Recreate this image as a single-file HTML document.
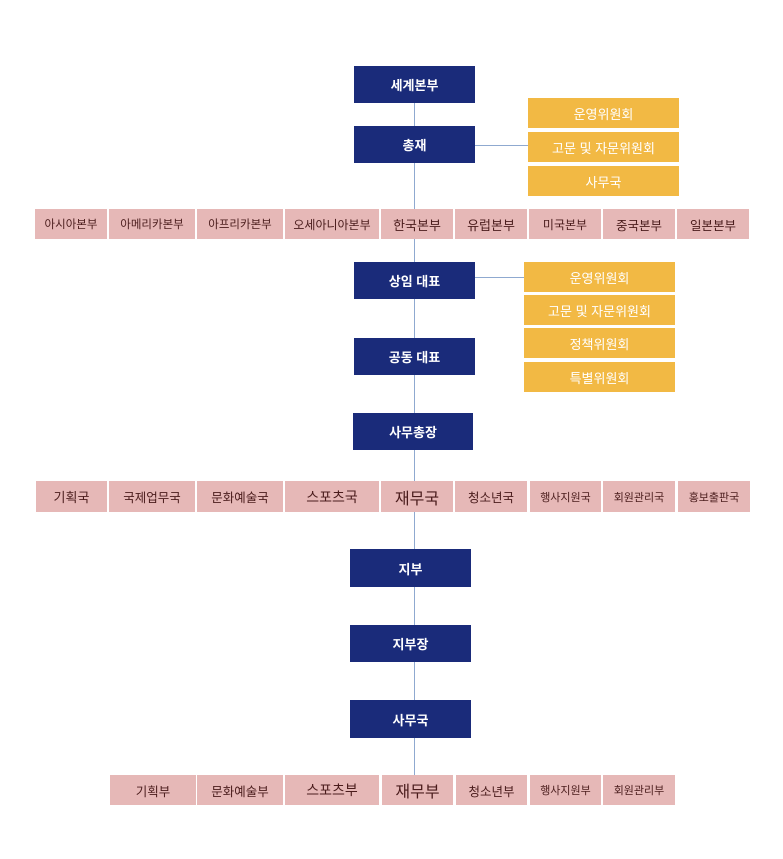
<!DOCTYPE html>
<html><head><meta charset="utf-8"><style>
body{margin:0;width:783px;height:859px;background:#fff;position:relative;overflow:hidden;font-family:"Liberation Sans","Noto Sans CJK KR",sans-serif}
div{position:absolute;box-sizing:border-box;display:flex;align-items:center;justify-content:center;white-space:nowrap}
.n{background:#1a2b7a;color:#fff;font-size:13px;font-weight:bold}
.o{background:#f2b944;color:#fff;font-size:13px}
.p{background:#e6b8b7;color:#4a1c1c;font-size:11.5px}
.l{background:#8fa9d0}
</style></head><body>
<div class="l" style="left:414px;top:100px;width:1px;height:676px"></div>
<div class="l" style="left:475px;top:145px;width:53px;height:1px"></div>
<div class="l" style="left:475px;top:277px;width:49px;height:1px"></div>

<div class="n" style="left:354px;top:66px;width:121px;height:37px">세계본부</div>
<div class="n" style="left:354px;top:126px;width:121px;height:37px">총재</div>
<div class="n" style="left:354px;top:262px;width:121px;height:37px">상임 대표</div>
<div class="n" style="left:354px;top:338px;width:121px;height:37px">공동 대표</div>
<div class="n" style="left:353px;top:413px;width:120px;height:37px">사무총장</div>
<div class="n" style="left:350px;top:549px;width:121px;height:38px">지부</div>
<div class="n" style="left:350px;top:625px;width:121px;height:37px">지부장</div>
<div class="n" style="left:350px;top:700px;width:121px;height:38px">사무국</div>

<div class="o" style="left:528px;top:98px;width:151px;height:30px">운영위원회</div>
<div class="o" style="left:528px;top:132px;width:151px;height:30px">고문 및 자문위원회</div>
<div class="o" style="left:528px;top:166px;width:151px;height:30px">사무국</div>
<div class="o" style="left:524px;top:262px;width:151px;height:30px">운영위원회</div>
<div class="o" style="left:524px;top:295px;width:151px;height:30px">고문 및 자문위원회</div>
<div class="o" style="left:524px;top:328px;width:151px;height:30px">정책위원회</div>
<div class="o" style="left:524px;top:362px;width:151px;height:30px">특별위원회</div>

<div class="p" style="left:35px;top:209px;width:72px;height:30px">아시아본부</div>
<div class="p" style="left:109px;top:209px;width:86px;height:30px">아메리카본부</div>
<div class="p" style="left:197px;top:209px;width:86px;height:30px">아프리카본부</div>
<div class="p" style="left:285px;top:209px;width:94px;height:30px;font-size:12px">오세아니아본부</div>
<div class="p" style="left:381px;top:209px;width:72px;height:30px;font-size:13px">한국본부</div>
<div class="p" style="left:455px;top:209px;width:72px;height:30px;font-size:13px">유럽본부</div>
<div class="p" style="left:529px;top:209px;width:72px;height:30px;font-size:12px">미국본부</div>
<div class="p" style="left:603px;top:209px;width:72px;height:30px;font-size:12.5px">중국본부</div>
<div class="p" style="left:677px;top:209px;width:72px;height:30px;font-size:12.5px">일본본부</div>

<div class="p" style="left:36px;top:481px;width:71px;height:31px;font-size:13px">기획국</div>
<div class="p" style="left:109px;top:481px;width:86px;height:31px;font-size:12.5px">국제업무국</div>
<div class="p" style="left:197px;top:481px;width:86px;height:31px;font-size:12.5px">문화예술국</div>
<div class="p" style="left:285px;top:481px;width:94px;height:31px;font-size:14px">스포츠국</div>
<div class="p" style="left:381px;top:481px;width:72px;height:31px;font-size:16px">재무국</div>
<div class="p" style="left:455px;top:481px;width:72px;height:31px;font-size:12.5px">청소년국</div>
<div class="p" style="left:530px;top:481px;width:71px;height:31px;font-size:11px">행사지원국</div>
<div class="p" style="left:603px;top:481px;width:72px;height:31px;font-size:11px">회원관리국</div>
<div class="p" style="left:678px;top:481px;width:72px;height:31px;font-size:11px">홍보출판국</div>

<div class="p" style="left:110px;top:775px;width:86px;height:30px;font-size:12.5px">기획부</div>
<div class="p" style="left:197px;top:775px;width:86px;height:30px;font-size:12.5px">문화예술부</div>
<div class="p" style="left:285px;top:775px;width:94px;height:30px;font-size:14px">스포츠부</div>
<div class="p" style="left:382px;top:775px;width:71px;height:30px;font-size:16px">재무부</div>
<div class="p" style="left:456px;top:775px;width:71px;height:30px;font-size:12.5px">청소년부</div>
<div class="p" style="left:530px;top:775px;width:71px;height:30px;font-size:11px">행사지원부</div>
<div class="p" style="left:603px;top:775px;width:72px;height:30px;font-size:11px">회원관리부</div>
</body></html>
